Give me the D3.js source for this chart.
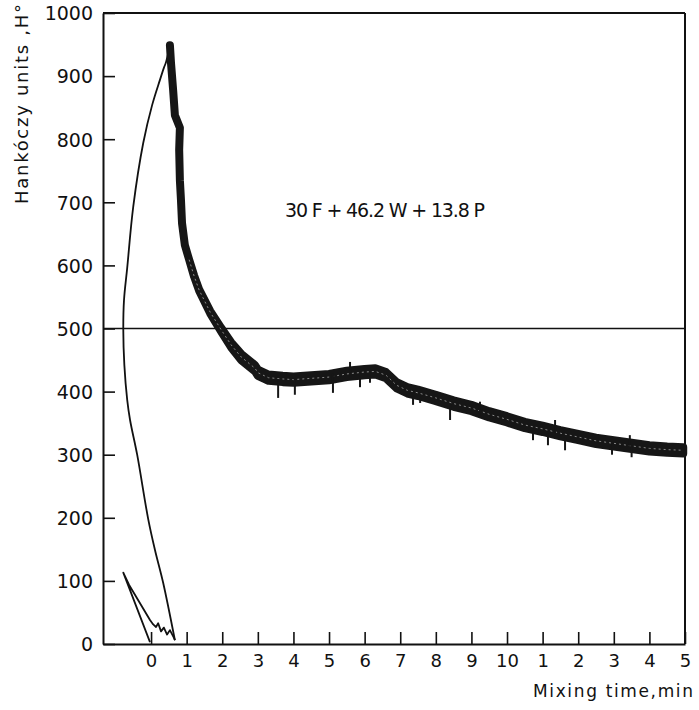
<!DOCTYPE html>
<html>
<head>
<meta charset="utf-8">
<script src="https://cdn.jsdelivr.net/npm/d3@7/dist/d3.min.js"></script>
<style>
body { margin: 0; background: #fff; }
svg { display: block; background: #fff; }
text { font-family: "DejaVu Sans", "Liberation Sans", sans-serif; fill: #111; }
</style>
</head>
<body>
<svg id="chart" width="699" height="710"></svg>
<script>

// axis values
var yTicks = [0, 100, 200, 300, 400, 500, 600, 700, 800, 900, 1000];
var xTicks = [0, 1, 2, 3, 4, 5, 6, 7, 8, 9, 10, 11, 12, 13, 14, 15];
var xTickLabels = ["0", "1", "2", "3", "4", "5", "6", "7", "8", "9", "10", "1", "2", "3", "4", "5"];
var refLine = 500;

// pen start: small zigzag near zero (min, H°)
var preTime  = [-0.03, -0.78, -0.62, -0.03, 0.06, 0.14, 0.20, 0.28, 0.36, 0.45, 0.53, 0.64, 0.67];
var preValue = [3, 113, 94, 38, 31, 27, 33, 20, 26, 15, 22, 10, 6];

// thin rising stroke up to the peak
var riseTime  = [0.67, 0.34, 0.11, -0.08, -0.39, -0.59, -0.67, -0.75, -0.78, -0.76, -0.67, -0.50, -0.22, 0.03, 0.25, 0.36, 0.42, 0.53];
var riseValue = [6, 97, 149, 198, 300, 355, 387, 442, 498, 545, 596, 693, 794, 854, 894, 913, 922, 949];

// thick noisy band after the peak: centre and half width
var bandTime  = [0.53, 0.56, 0.62, 0.67, 0.81, 0.79, 0.81, 0.84, 0.87, 0.95, 1.07, 1.21, 1.35, 1.66, 1.97, 2.25, 2.53, 2.92,
                 3.0, 3.3, 3.7, 4.0, 4.5, 5.0, 5.5, 6.0, 6.3, 6.6, 6.9, 7.2, 7.5, 8.0, 8.5, 9.0, 9.5, 10.0,
                 10.5, 11.0, 11.5, 12.0, 12.5, 13.0, 13.5, 14.0, 14.5, 14.95];
var bandValue = [949, 921, 878, 838, 818, 783, 735, 704, 667, 632, 609, 583, 561, 526, 498, 474, 455, 437,
                 430, 422, 420, 419, 421, 423, 428, 431, 432, 426, 410, 402, 398, 390, 381, 374, 364, 356,
                 347, 341, 334, 328, 322, 318, 314, 310, 308, 307];
var bandHalf  = [0, 0, 0, 0, 0, 0, 0, 0, 0, 0, 0, 1, 1, 2, 3, 4, 5, 5,
                 5, 5, 5, 5, 5, 5, 5, 5, 5, 5, 5, 5, 5, 5, 5, 5, 5, 5,
                 5, 5, 5, 5, 5, 5, 5, 5, 5, 5];

// single pen spikes sticking out of the band
var spikeTime  = [3.57, 4.04, 5.11, 5.59, 5.87, 6.15, 7.36, 7.56, 8.40, 9.24, 10.73, 11.15, 11.35, 11.63, 12.95, 13.45, 13.50];
var spikeValue = [390, 395, 398, 447, 407, 414, 379, 382, 355, 384, 323, 315, 355, 307, 300, 331, 296];

var recipe = "30 F + 46.2 W + 13.8 P";
var yTitle = "Hankóczy units ,H°";
var xTitle = "Mixing time,min";


MixChart = function(_parentElement) {
    this.parentElement = _parentElement;
    this.width = 699;
    this.height = 710;
    this.initVis();
}


/*
 *  Initialize scales and axes
 */
MixChart.prototype.initVis = function() {
    var vis = this;
    vis.svg = d3.select("#" + vis.parentElement);

    vis.x = d3.scaleLinear().domain([-1.35, 15]).range([103, 685]);
    vis.y = d3.scaleLinear().domain([0, 1000]).range([644, 13]);

    vis.wrangleData();
}


/*
 *  Data wrangling
 */
MixChart.prototype.wrangleData = function() {
    var vis = this;
    vis.pre = preTime.map(function(t, i) { return { t: t, v: preValue[i] }; });
    vis.rise = riseTime.map(function(t, i) { return { t: t, v: riseValue[i] }; });
    vis.band = bandTime.map(function(t, i) { return { t: t, v: bandValue[i], h: bandHalf[i] }; });
    vis.spikes = spikeTime.map(function(t, i) {
        // base of the spike is the band centre at that time
        var j = d3.bisectLeft(bandTime.slice(18), t) + 18;
        return { t: t, v: spikeValue[i], base: bandValue[Math.min(j, bandValue.length - 1)] };
    });
    vis.updateVis();
}


/*
 *  The drawing function
 */
MixChart.prototype.updateVis = function() {
    var vis = this;

    // frame: top and right
    vis.svg.append("line")
        .attr("x1", vis.x(-1.35)).attr("x2", vis.x(15))
        .attr("y1", vis.y(1000)).attr("y2", vis.y(1000))
        .attr("stroke", "#111").attr("stroke-width", 2.2);
    vis.svg.append("line")
        .attr("x1", vis.x(15)).attr("x2", vis.x(15))
        .attr("y1", vis.y(1000)).attr("y2", vis.y(0))
        .attr("stroke", "#111").attr("stroke-width", 2);

    // 500 line
    vis.svg.append("line")
        .attr("x1", vis.x(-1.35)).attr("x2", vis.x(15))
        .attr("y1", vis.y(refLine)).attr("y2", vis.y(refLine))
        .attr("stroke", "#111").attr("stroke-width", 1.6);

    // axes, ticks pointing inside
    var yAxis = d3.axisLeft(vis.y).tickValues(yTicks).tickSizeInner(-12).tickSizeOuter(0).tickPadding(10)
        .tickFormat(d3.format("d"));
    var gy = vis.svg.append("g").attr("transform", "translate(" + vis.x(-1.35) + ",0)").call(yAxis);
    gy.selectAll("text").style("font-size", "19px").attr("dy", "0.36em");

    var xAxis = d3.axisBottom(vis.x).tickValues(xTicks).tickSizeInner(-12).tickSizeOuter(0).tickPadding(10)
        .tickFormat(function(d, i) { return xTickLabels[i]; });
    var gx = vis.svg.append("g").attr("transform", "translate(0," + vis.y(0) + ")").call(xAxis);
    gx.selectAll("text").style("font-size", "18px").attr("dy", "0.71em");

    vis.svg.selectAll(".domain").attr("stroke", "#111").attr("stroke-width", 2);
    vis.svg.selectAll(".tick line").attr("stroke", "#111").attr("stroke-width", 1.6);
    vis.svg.selectAll(".tick text").attr("fill", "#111");

    // start of the record
    var lin = d3.line().x(function(d) { return vis.x(d.t); }).y(function(d) { return vis.y(d.v); });
    vis.svg.append("path")
        .datum(vis.pre)
        .attr("d", lin)
        .attr("fill", "none").attr("stroke", "#111").attr("stroke-width", 1.8)
        .attr("stroke-linejoin", "round");

    var smooth = d3.line().curve(d3.curveCatmullRom.alpha(0.5))
        .x(function(d) { return vis.x(d.t); }).y(function(d) { return vis.y(d.v); });
    vis.svg.append("path")
        .datum(vis.rise)
        .attr("d", smooth)
        .attr("fill", "none").attr("stroke", "#111").attr("stroke-width", 1.8);

    // thick band
    var area = d3.area()
        .x(function(d) { return vis.x(d.t); })
        .y0(function(d) { return vis.y(d.v - d.h); })
        .y1(function(d) { return vis.y(d.v + d.h); });
    vis.svg.append("path")
        .datum(vis.band)
        .attr("d", area)
        .attr("fill", "#161616").attr("stroke", "#161616").attr("stroke-width", 8)
        .attr("stroke-linejoin", "round");

    // light speckle inside the band
    vis.svg.append("path")
        .datum(vis.band.filter(function(d) { return d.t > 1; }))
        .attr("d", lin)
        .attr("fill", "none").attr("stroke", "#8a8a8a").attr("stroke-width", 1)
        .attr("stroke-dasharray", "2,3");

    vis.svg.selectAll(".spike")
        .data(vis.spikes)
        .enter()
        .append("line")
        .attr("class", "spike")
        .attr("x1", function(d) { return vis.x(d.t); })
        .attr("x2", function(d) { return vis.x(d.t); })
        .attr("y1", function(d) { return vis.y(d.base); })
        .attr("y2", function(d) { return vis.y(d.v); })
        .attr("stroke", "#161616").attr("stroke-width", 2);

    // texts
    vis.svg.append("text")
        .attr("x", 285).attr("y", 217)
        .attr("textLength", 200).attr("lengthAdjust", "spacing")
        .style("font-size", "19px")
        .text(recipe);

    vis.svg.append("text")
        .attr("transform", "translate(28,104) rotate(-90)")
        .attr("text-anchor", "middle")
        .attr("textLength", 200).attr("lengthAdjust", "spacing")
        .style("font-size", "18px")
        .text(yTitle);

    vis.svg.append("text")
        .attr("x", 533).attr("y", 697)
        .attr("textLength", 160).attr("lengthAdjust", "spacing")
        .style("font-size", "17px")
        .text(xTitle);
}

var chart = new MixChart("chart");

</script>
</body>
</html>
